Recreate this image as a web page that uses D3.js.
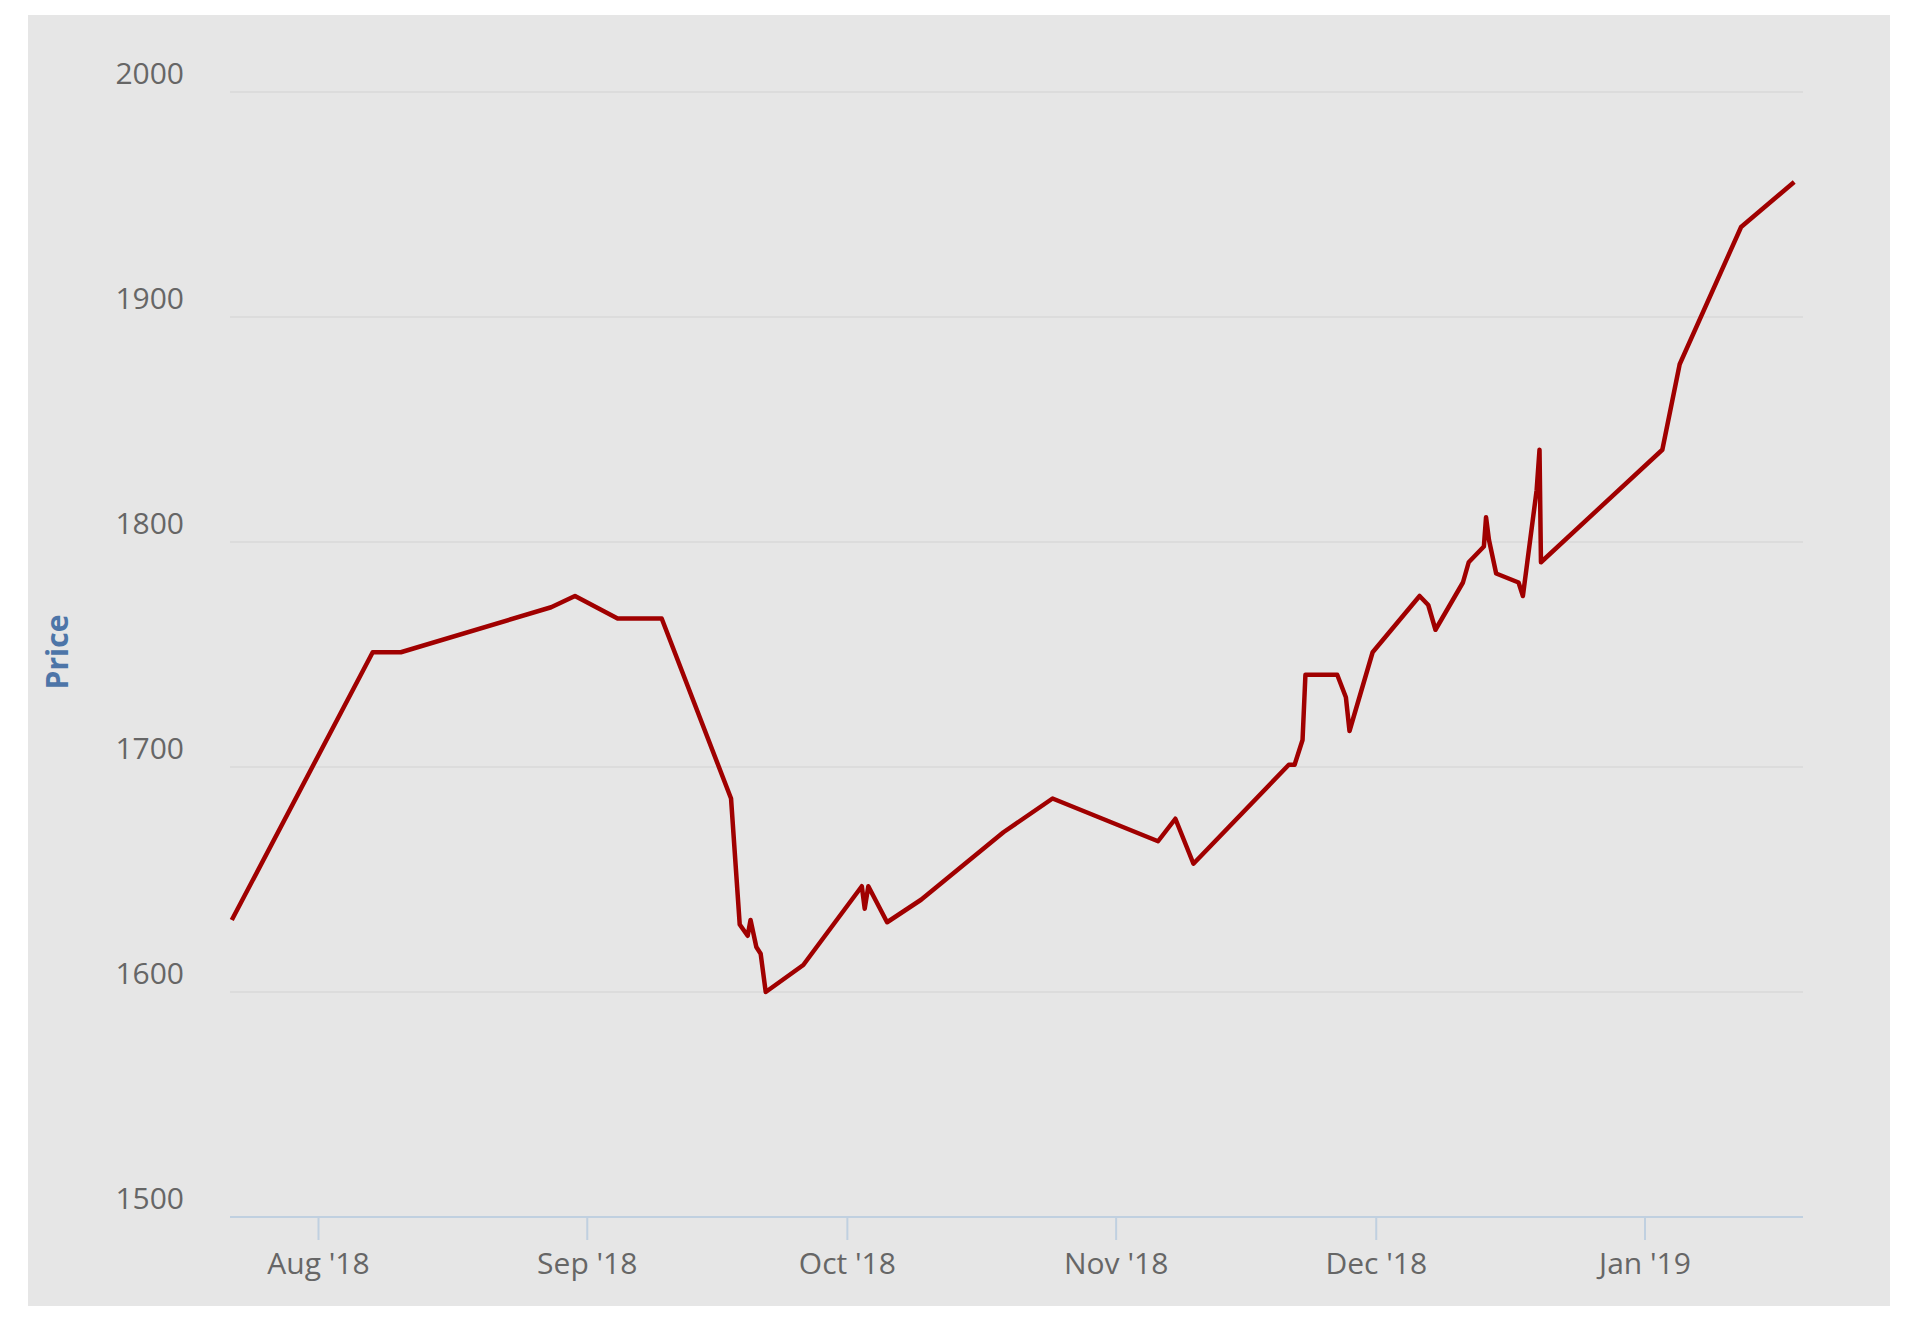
<!DOCTYPE html>
<html><head><meta charset="utf-8">
<script src="https://cdn.jsdelivr.net/npm/d3@7"></script>
<style>body{margin:0;background:#fff}svg{display:block}text{font-family:"Open Sans",sans-serif}</style>
</head><body><svg id="c" width="1920" height="1324"></svg>
<script>
const dates = ["2018-07-22T00","2018-08-07T06","2018-08-10T12","2018-08-27T20","2018-08-30T14","2018-09-04T12","2018-09-09T14","2018-09-17T14","2018-09-18T14","2018-09-19T12","2018-09-19T20","2018-09-20T12","2018-09-21T00","2018-09-21T14","2018-09-25T22","2018-10-02T16","2018-10-03T00","2018-10-03T10","2018-10-05T14","2018-10-09T12","2018-10-19T00","2018-10-24T16","2018-11-05T20","2018-11-07T20","2018-11-09T22","2018-11-20T22","2018-11-21T14","2018-11-22T12","2018-11-22T20","2018-11-26T12","2018-11-27T12","2018-11-27T22","2018-11-30T14","2018-12-06T00","2018-12-07T00","2018-12-07T20","2018-12-11T00","2018-12-11T16","2018-12-13T10","2018-12-13T16","2018-12-14T00","2018-12-14T20","2018-12-17T10","2018-12-17T22","2018-12-19T12","2018-12-19T20","2018-12-20T00","2019-01-03T00","2019-01-05T00","2019-01-12T02","2019-01-18T05"];
const prices = [1632,1751,1751,1771,1776,1766,1766,1686,1630,1625,1632,1620,1617,1600,1612,1647,1637,1647,1631,1641,1671,1686,1667,1677,1657,1701,1701,1712,1741,1741,1731,1716,1751,1776,1772,1761,1782,1791,1798,1811,1801,1786,1782,1776,1823,1841,1791,1841,1879,1940,1960];
const yTicks = [1500,1600,1700,1800,1900,2000];
const xTickDates = ["2018-08-01","2018-09-01","2018-10-01","2018-11-01","2018-12-01","2019-01-01"];
const xTickLabels = ["Aug '18","Sep '18","Oct '18","Nov '18","Dec '18","Jan '19"];

const parse = d3.timeParse("%Y-%m-%dT%H");
const svg = d3.select("#c");
svg.append("rect").attr("x",28).attr("y",15).attr("width",1862).attr("height",1291).attr("fill","#e6e6e6");
const L=230,R=1803;
const x = d3.scaleTime().domain([new Date(2018,7,1),new Date(2019,0,1)]).range([318.5,1645]);
const y = d3.scaleLinear().domain([1500,2000]).range([1217,92]);

const g = svg.append("g");
yTicks.forEach(t=>{
  if(t>1500) g.append("line").attr("x1",L).attr("x2",R).attr("y1",y(t)).attr("y2",y(t)).attr("stroke","#d8d8d8").attr("stroke-width",1.5);
  g.append("text").attr("x",184).attr("y",y(t)-8).attr("text-anchor","end").attr("fill","#666").attr("font-size",30).text(t);
});
g.append("line").attr("x1",L).attr("x2",R).attr("y1",1217).attr("y2",1217).attr("stroke","#c0d0e0").attr("stroke-width",2);
xTickDates.forEach((d,i)=>{
  const xx = x(d3.timeParse("%Y-%m-%d")(d));
  g.append("line").attr("x1",xx).attr("x2",xx).attr("y1",1217).attr("y2",1240).attr("stroke","#c0d0e0").attr("stroke-width",2);
  g.append("text").attr("x",xx).attr("y",1274).attr("text-anchor","middle").attr("fill","#666").attr("font-size",30).text(xTickLabels[i]);
});
svg.append("text").attr("transform","translate(68,652) rotate(-90)").attr("text-anchor","middle")
  .attr("fill","#4d75a8").attr("font-size",30).attr("font-weight","bold").text("Price");

const data = dates.map((d,i)=>({d:parse(d),v:prices[i]}));
svg.append("path").datum(data).attr("fill","none").attr("stroke","#a00000").attr("stroke-width",4.5).attr("stroke-linejoin","round")
  .attr("d",d3.line().x(p=>x(p.d)).y(p=>y(p.v)));
</script></body></html>
